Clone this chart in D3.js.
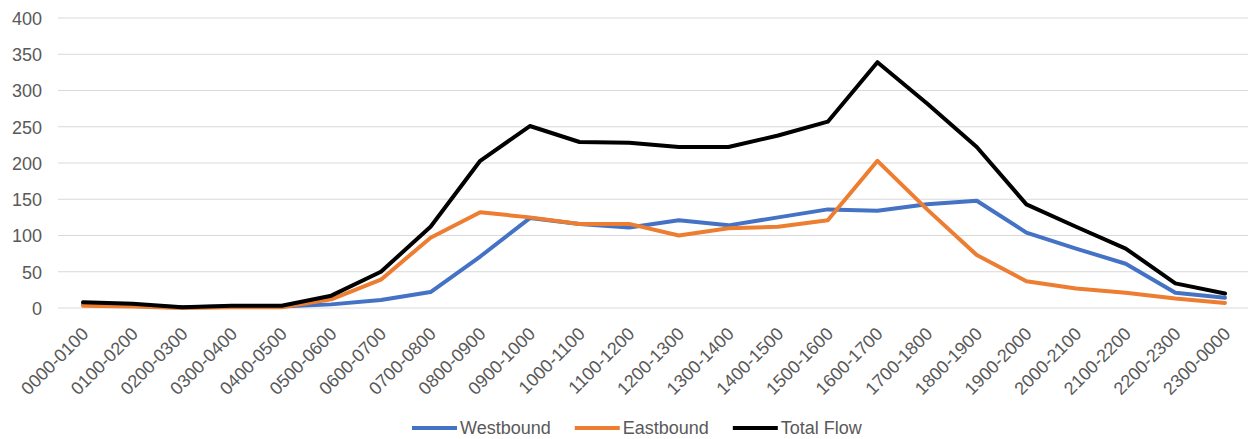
<!DOCTYPE html>
<html><head><meta charset="utf-8">
<script src="https://cdn.jsdelivr.net/npm/d3@7"></script>
<style>body{margin:0;background:#fff;} svg{display:block;}</style>
</head><body>
<svg id="c" width="1248" height="439"></svg>
<script>
const categories = ["0000-0100","0100-0200","0200-0300","0300-0400","0400-0500","0500-0600","0600-0700","0700-0800","0800-0900","0900-1000","1000-1100","1100-1200","1200-1300","1300-1400","1400-1500","1500-1600","1600-1700","1700-1800","1800-1900","1900-2000","2000-2100","2100-2200","2200-2300","2300-0000"];
const westbound = [5,3,1,2,2,5,11,22,71,124,116,111,121,114,125,136,134,143,148,104,82,61,21,14];
const eastbound = [3,2,0,1,1,12,39,97,132,125,116,116,100,110,112,121,203,136,73,37,27,21,13,7];
const totalFlow = [8,6,1,3,3,17,50,112,203,251,229,228,222,222,238,257,339,282,222,143,112,82,34,20];
const yTicks = [0,50,100,150,200,250,300,350,400];
const seriesNames = ["Westbound","Eastbound","Total Flow"];
const seriesColors = ["#4472C4","#ED7D31","#000000"];

const svg = d3.select("#c");
const font = "'Liberation Sans', Arial, sans-serif";
const x = d3.scalePoint().domain(categories).range([83, 1225]);
const y = d3.scaleLinear().domain([0,400]).range([308, 18]);

// gridlines
svg.append("g").selectAll("line").data(yTicks).join("line")
  .attr("x1", 58).attr("x2", 1248)
  .attr("y1", d => y(d)).attr("y2", d => y(d))
  .attr("stroke", "#d9d9d9").attr("stroke-width", 1.2);

// y axis labels
const yAxis = d3.axisLeft(y).tickValues(yTicks).tickSize(0).tickPadding(0);
const gy = svg.append("g").attr("transform", "translate(42,0)").call(yAxis);
gy.select(".domain").remove();
gy.selectAll("text").attr("font-family", font).attr("font-size", 18).attr("fill", "#595959").attr("dy", "0.35em");

// x axis labels
const xAxis = d3.axisBottom(x).tickSize(0).tickPadding(0);
const gx = svg.append("g").attr("transform", "translate(0,308)").call(xAxis);
gx.select(".domain").remove();
gx.selectAll("text")
  .attr("font-family", font).attr("font-size", 18).attr("fill", "#595959")
  .attr("text-anchor", "end").attr("dy", null).attr("y", 0)
  .attr("transform", "translate(6,27) rotate(-45)");

// lines
const data = [westbound, eastbound, totalFlow];
const line = d3.line().x((d,i) => x(categories[i])).y(d => y(d));
data.forEach((s, k) => {
  svg.append("path").datum(s).attr("d", line)
    .attr("fill", "none").attr("stroke", seriesColors[k])
    .attr("stroke-width", 4).attr("stroke-linejoin", "round").attr("stroke-linecap", "round");
});

// legend
const lg = svg.append("g");
let lx = 412;
const ly = 428;
seriesNames.forEach((n, k) => {
  lg.append("line").attr("x1", lx).attr("x2", lx + 45).attr("y1", ly).attr("y2", ly)
    .attr("stroke", seriesColors[k]).attr("stroke-width", 4);
  const t = lg.append("text").attr("x", lx + 48).attr("y", ly).attr("dy", "0.35em")
    .attr("font-family", font).attr("font-size", 18).attr("fill", "#595959").text(n);
  lx += 48 + t.node().getComputedTextLength() + 24;
});
</script>
</body></html>
